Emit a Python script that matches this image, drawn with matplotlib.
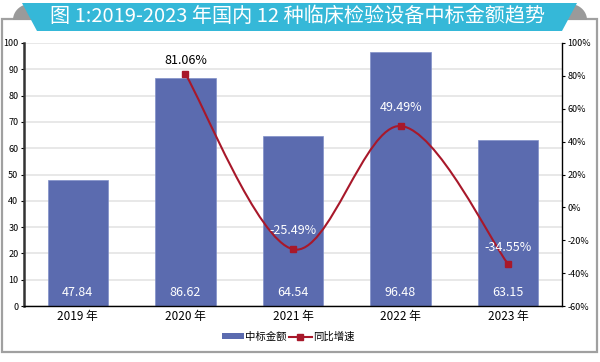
import matplotlib.pyplot as plt
import numpy as np
from matplotlib.patches import Polygon, Rectangle, Patch
from matplotlib.path import Path
from matplotlib.patches import PathPatch
from matplotlib.lines import Line2D

plt.rcParams['font.family'] = ['Noto Sans CJK SC', 'DejaVu Sans']

# data
years = ['2019 年', '2020 年', '2021 年', '2022 年', '2023 年']
amount = [47.84, 86.62, 64.54, 96.48, 63.15]
growth_years = [1, 2, 3, 4]          # index into years, 2019 has no growth value
growth = [81.06, -25.49, 49.49, -34.55]
growth_labels = ['81.06%', '-25.49%', '49.49%', '-34.55%']
title = '图 1:2019-2023 年国内 12 种临床检验设备中标金额趋势'

bar_color = '#5b6baf'
line_color = '#a8182a'

W, H = 600, 362
fig = plt.figure(figsize=(6, 3.62), dpi=100)


def fx(px):
    return px / W


def fy(py):
    return 1 - py / H


# outer grey frame
fig.add_artist(Rectangle((fx(2), fy(352)), fx(595), (352 - 19) / H,
                         transform=fig.transFigure, fill=False,
                         edgecolor='#a0a0a0', lw=1.6, zorder=0))

# grey half-round tabs behind the ribbon
t = np.linspace(0, np.pi, 40)
for cx in (30, 570):
    tab = [(fx(cx + 17 * np.cos(a)), fy(20 - 16 * np.sin(a))) for a in t]
    fig.add_artist(Polygon(tab, closed=True, transform=fig.transFigure,
                           facecolor='#9a9a9a', edgecolor='none', zorder=1))

# cyan title ribbon
ribbon = [(22, 3), (577, 3), (562, 31), (37, 31)]
fig.add_artist(Polygon([(fx(x), fy(y)) for x, y in ribbon], closed=True,
                       transform=fig.transFigure, facecolor='#35b8d8',
                       edgecolor='none', zorder=2))
fig.text(fx(298), fy(17), title, color='white', fontsize=14.5, fontweight='medium',
         ha='center', va='center', zorder=3)

ax = fig.add_axes([fx(24), fy(306), (562 - 24) / W, (306 - 43) / H])
ax2 = ax.twinx()

x = np.arange(len(years))
ax.bar(x, amount, width=0.56, color=bar_color, edgecolor='#8090c8', lw=0.5, zorder=2)
ax.set_xlim(-0.5, len(years) - 0.5)
ax.set_ylim(0, 100)
ax.set_yticks(np.arange(0, 101, 10))
ax.yaxis.grid(True, color='#e2e2e2', lw=1.1, zorder=0)
ax.set_axisbelow(True)
ax.set_xticks(x)
ax.set_xticklabels(years, fontsize=8.5)
ax.tick_params(axis='x', length=0, pad=3)
ax.tick_params(axis='y', labelsize=6.5, length=2, width=0.8, pad=2)
ax.spines['top'].set_visible(False)
ax.spines['right'].set_visible(False)
ax.spines['left'].set_linewidth(1.8)
ax.spines['left'].set_color('#333333')
ax.spines['bottom'].set_linewidth(1.0)
for xi, v in zip(x, amount):
    ax.text(xi, 5.3, f'{v:.2f}', color='white', fontsize=9, ha='center', va='center',
            zorder=4)

# smoothed growth line (Catmull-Rom as Bezier segments)
gx = np.array(growth_years, dtype=float)
gy = np.array(growth, dtype=float)
pts = np.column_stack([gx, gy])
verts = [tuple(pts[0])]
codes = [Path.MOVETO]
n = len(pts)
for i in range(n - 1):
    p0 = pts[max(i - 1, 0)]
    p1 = pts[i]
    p2 = pts[i + 1]
    p3 = pts[min(i + 2, n - 1)]
    c1 = p1 + (p2 - p0) / 6
    c2 = p2 - (p3 - p1) / 6
    verts += [tuple(c1), tuple(c2), tuple(p2)]
    codes += [Path.CURVE4] * 3
ax2.add_patch(PathPatch(Path(verts, codes), facecolor='none', edgecolor=line_color,
                        lw=1.5, zorder=3))
ax2.plot(gx, gy, ls='none', marker='s', ms=4, color=line_color, zorder=4)
ax2.set_ylim(-60, 100)
ax2.set_yticks(np.arange(-60, 101, 20))
ax2.set_yticklabels([f'{t}%' for t in range(-60, 101, 20)])
ax2.tick_params(axis='y', labelsize=6.5, length=2, width=0.8, pad=2)
for s in ('top', 'left', 'bottom'):
    ax2.spines[s].set_visible(False)
ax2.spines['right'].set_linewidth(1.0)

offsets = [14, 19, 19, 17]
for xi, v, lab, off in zip(gx, gy, growth_labels, offsets):
    col = 'black' if lab == '81.06%' else 'white'
    ax2.annotate(lab, (xi, v), xytext=(0, off), textcoords='offset pixels',
                 ha='center', va='center', fontsize=9, color=col, zorder=5)

handles = [Patch(facecolor=bar_color, edgecolor='none'),
           Line2D([], [], color=line_color, lw=1.5, marker='s', ms=4)]
fig.legend(handles, ['中标金额', '同比增速'], loc='center', ncol=2,
           bbox_to_anchor=(fx(288), fy(337)), frameon=False, fontsize=7.5,
           handlelength=2.2, handleheight=0.5, handletextpad=0.1,
           columnspacing=0.2, borderpad=0)

fig.savefig('out.png', dpi=100)
